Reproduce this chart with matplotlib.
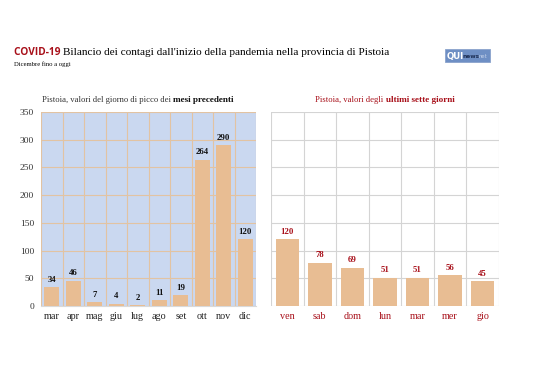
import matplotlib
matplotlib.use("Agg")
import matplotlib.pyplot as plt
from matplotlib.patches import Rectangle

months = ["mar", "apr", "mag", "giu", "lug", "ago", "set", "ott", "nov", "dic"]
month_vals = [34, 46, 7, 4, 2, 11, 19, 264, 290, 120]
days = ["ven", "sab", "dom", "lun", "mar", "mer", "gio"]
day_vals = [120, 78, 69, 51, 51, 56, 45]
yticks = [0, 50, 100, 150, 200, 250, 300, 350]

SERIF = ["Liberation Serif", "DejaVu Serif"]
RED = "#a8101a"
BAR = "#e8bd93"
BLUE_BG = "#cad8f0"
GRID_L = "#e2c3a2"
GRID_R = "#d4d4d4"

W, H = 538, 380
fig = plt.figure(figsize=(W / 100, H / 100), dpi=100)
fig.patch.set_facecolor("white")


def fx(px):
    return px / W


def fy(py):
    return 1 - py / H


renderer = fig.canvas.get_renderer()


def mixed_text(x, y, parts, ha="left"):
    objs = []
    for s, kw in parts:
        t = fig.text(0, y, s, va="baseline", **kw)
        objs.append(t)
    widths = [t.get_window_extent(renderer=renderer).width / W for t in objs]
    total = sum(widths)
    x0 = x - total / 2 if ha == "center" else x
    for t, w in zip(objs, widths):
        t.set_x(x0)
        x0 += w
    return objs


# Main title
mixed_text(fx(14), fy(55), [
    ("COVID-19 ", dict(fontfamily=["Open Sans", "DejaVu Sans"], fontweight="bold", fontsize=7.3, color=RED)),
    ("Bilancio dei contagi dall'inizio della pandemia nella provincia di Pistoia",
     dict(fontfamily=SERIF, fontsize=8.1, color="black")),
])
fig.text(fx(14), fy(66), "Dicembre fino a oggi", fontfamily=SERIF, fontsize=4.8, color="black", va="baseline")

# Logo
fig.patches.append(Rectangle((fx(445), fy(62)), fx(45), 13 / H, transform=fig.transFigure,
                             facecolor="#6e8fc4", edgecolor="#8aa3cc", lw=0.6))
fig.text(fx(447), fy(58.5), "QUI", fontfamily=["DejaVu Sans"], fontweight="bold", fontsize=6.2,
         color="white", va="baseline")
fig.text(fx(462.5), fy(58.5), "news", fontfamily=["DejaVu Sans"], fontweight="bold", fontsize=4.2,
         color="#1d2f55", va="baseline")
fig.text(fx(478.5), fy(58.5), "net", fontfamily=["DejaVu Sans"], fontsize=3.8,
         color="#c2d0e8", va="baseline")

# Left axes
axL = fig.add_axes([fx(41), fy(306), fx(256) - fx(41), (306 - 112) / H])
axL.set_facecolor(BLUE_BG)
xl = range(len(months))
axL.bar(xl, month_vals, width=0.72, color=BAR, zorder=3)
axL.set_xlim(-0.5, len(months) - 0.5)
axL.set_ylim(0, 350)
axL.set_yticks(yticks)
axL.set_yticklabels([str(v) for v in yticks], fontfamily=SERIF, fontsize=6.8, color="#333333")
axL.set_xticks(list(xl))
axL.set_xticklabels(months, fontfamily=SERIF, fontsize=7.3, color="#222222")
axL.tick_params(length=0, pad=4.5)
axL.tick_params(axis="y", pad=5)
for v in yticks:
    axL.axhline(v, color=GRID_L, lw=0.8, zorder=1)
for i in range(len(months) + 1):
    axL.axvline(i - 0.5, color=GRID_L, lw=0.8, zorder=1)
for s in axL.spines.values():
    s.set_visible(False)
axL.spines["bottom"].set_visible(True)
axL.spines["bottom"].set_color("#d9d9d9")
for i, v in enumerate(month_vals):
    axL.text(i, v + 6, str(v), ha="center", va="bottom", fontfamily=SERIF, fontweight="bold",
             fontsize=6.3, color="#111111", zorder=4)
mixed_text(fx(138), fy(102), [
    ("Pistoia, valori del giorno di picco dei ", dict(fontfamily=SERIF, fontsize=6.2, color="#333333")),
    ("mesi precedenti", dict(fontfamily=SERIF, fontsize=6.6, fontweight="bold", color="#111111")),
], ha="center")

# Right axes
axR = fig.add_axes([fx(271), fy(306), fx(499) - fx(271), (306 - 112) / H])
axR.set_facecolor("white")
xr = range(len(days))
axR.bar(xr, day_vals, width=0.72, color=BAR, zorder=3)
axR.set_xlim(-0.5, len(days) - 0.5)
axR.set_ylim(0, 350)
axR.set_yticks(yticks)
axR.set_yticklabels([])
axR.set_xticks(list(xr))
axR.set_xticklabels(days, fontfamily=SERIF, fontsize=7.3, color=RED)
axR.tick_params(length=0, pad=4.5)
for v in yticks:
    axR.axhline(v, color=GRID_R, lw=0.8, zorder=1)
for i in range(len(days) + 1):
    axR.axvline(i - 0.5, color=GRID_R, lw=0.8, zorder=1)
for s in axR.spines.values():
    s.set_visible(False)
for i, v in enumerate(day_vals):
    axR.text(i, v + 6, str(v), ha="center", va="bottom", fontfamily=SERIF, fontweight="bold",
             fontsize=6.3, color=RED, zorder=4)
mixed_text(fx(385), fy(102), [
    ("Pistoia, valori degli ", dict(fontfamily=SERIF, fontsize=6.2, color=RED)),
    ("ultimi sette giorni", dict(fontfamily=SERIF, fontsize=6.6, fontweight="bold", color=RED)),
], ha="center")

fig.savefig("out.png", dpi=100)
